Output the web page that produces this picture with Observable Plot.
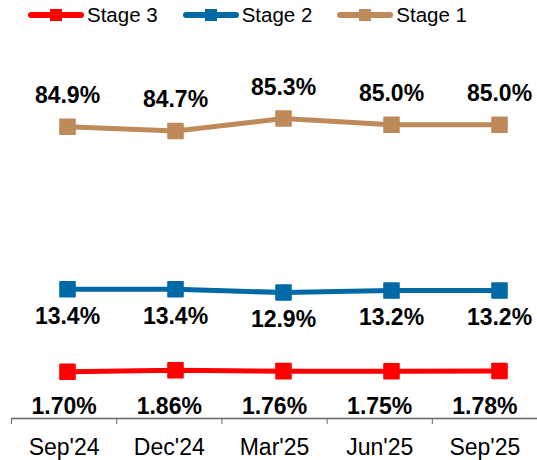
<!DOCTYPE html>
<html><head><meta charset="utf-8">
<script src="https://cdn.jsdelivr.net/npm/d3@7"></script>
<script src="https://cdn.jsdelivr.net/npm/@observablehq/plot@0.6"></script>
<style>
body{margin:0;background:#fff;font-family:"Liberation Sans",Arial,sans-serif;}
#chart{width:537px;height:460px;overflow:hidden;position:relative;}
.legend{height:30px;display:flex;align-items:center;padding-left:28px;font-size:20.5px;color:#000;box-sizing:border-box;}
.item{display:flex;align-items:center;margin-right:25px;}
.item svg{margin-right:3px;display:block;}
#chart > svg{display:block;}
</style></head><body><div id="chart"></div>
<script>
// ---- data ----
const quarters = ["Sep'24", "Dec'24", "Mar'25", "Jun'25", "Sep'25"];
const seriesNames = ["Stage 3", "Stage 2", "Stage 1"];
const seriesColors = ["#ff0000", "#0069a6", "#be8a5a"];
const stage1 = [84.9, 84.7, 85.3, 85.0, 85.0];
const stage2 = [13.4, 13.4, 12.9, 13.2, 13.2];
const stage3 = [1.70, 1.86, 1.76, 1.75, 1.78];

// piecewise (broken) value scale: each stage has its own band
const yDomain = [1.70, 1.86, 12.9, 13.4, 84.7, 85.3];
const yRange = [341.2, 339.7, 262, 258.8, 100.5, 88];

const font = '"Liberation Sans", Arial, sans-serif';
const fmt1 = d3.format(".1f"), fmt2 = d3.format(".2f");

const rows = [];
[stage3, stage2, stage1].forEach((vals, s) =>
  vals.forEach((v, i) => rows.push({quarter: quarters[i], stage: seriesNames[s], value: v})));

const chart = d3.select("#chart");

// ---- legend ----
const legend = chart.append("div").attr("class", "legend");
seriesNames.forEach((name, i) => {
  const it = legend.append("div").attr("class", "item");
  const sw = it.append("svg").attr("width", 56).attr("height", 16);
  sw.append("line").attr("x1", 3).attr("x2", 53).attr("y1", 8).attr("y2", 8)
    .attr("stroke", seriesColors[i]).attr("stroke-width", 6).attr("stroke-linecap", "round");
  sw.append("rect").attr("x", 22).attr("y", 2).attr("width", 12).attr("height", 12)
    .attr("fill", seriesColors[i]);
  it.append("span").text(name);
});

// ---- main plot ----
const main = Plot.plot({
  width: 537, height: 359,
  marginLeft: 65, marginRight: 37, marginTop: 0, marginBottom: 0,
  style: {fontFamily: font, background: "transparent", overflow: "visible"},
  x: {type: "point", domain: quarters, padding: 0, axis: null},
  y: {type: "linear", domain: yDomain, range: yRange, axis: null},
  color: {domain: seriesNames, range: seriesColors},
  marks: [
    Plot.line(rows, {x: "quarter", y: "value", z: "stage", stroke: "stage", strokeWidth: 5}),
    Plot.dot(rows, {x: "quarter", y: "value", fill: "stage", stroke: "stage", symbol: "square",
      r: 8.5, strokeWidth: 1.5, strokeLinejoin: "round"}),
    Plot.text(rows.filter(d => d.stage === "Stage 1"), {x: "quarter", y: "value",
      text: d => fmt1(d.value) + "%", dy: -31, fontSize: 23, fontWeight: "bold", fill: "#000"}),
    Plot.text(rows.filter(d => d.stage === "Stage 2"), {x: "quarter", y: "value",
      text: d => fmt1(d.value) + "%", dy: 27, fontSize: 23, fontWeight: "bold", fill: "#000"})
  ]
});
chart.node().appendChild(main);

// ---- category axis with Stage 3 labels ----
const axis = Plot.plot({
  width: 537, height: 71,
  marginLeft: 11, marginRight: 0, marginTop: 0, marginBottom: 42,
  style: {fontFamily: font, background: "transparent", overflow: "visible", color: "#666"},
  x: {type: "linear", domain: [0, quarters.length], ticks: d3.range(quarters.length),
      tickSize: 6, tickFormat: () => "", label: null},
  y: {domain: [0, 1], axis: null},
  marks: [
    Plot.ruleY([0], {stroke: "#666", strokeWidth: 1.5}),
    Plot.text(quarters, {x: (d, i) => i + 0.5, text: d => d, frameAnchor: "bottom",
      lineAnchor: "middle", dy: 29, fontSize: 23, fill: "#000"}),
    Plot.text(stage3, {x: (d, i) => i + 0.5, text: d => fmt2(d) + "%", frameAnchor: "bottom",
      lineAnchor: "middle", dy: -12, fontSize: 23, fontWeight: "bold", fill: "#000"})
  ]
});
chart.node().appendChild(axis);
</script>
</body></html>
